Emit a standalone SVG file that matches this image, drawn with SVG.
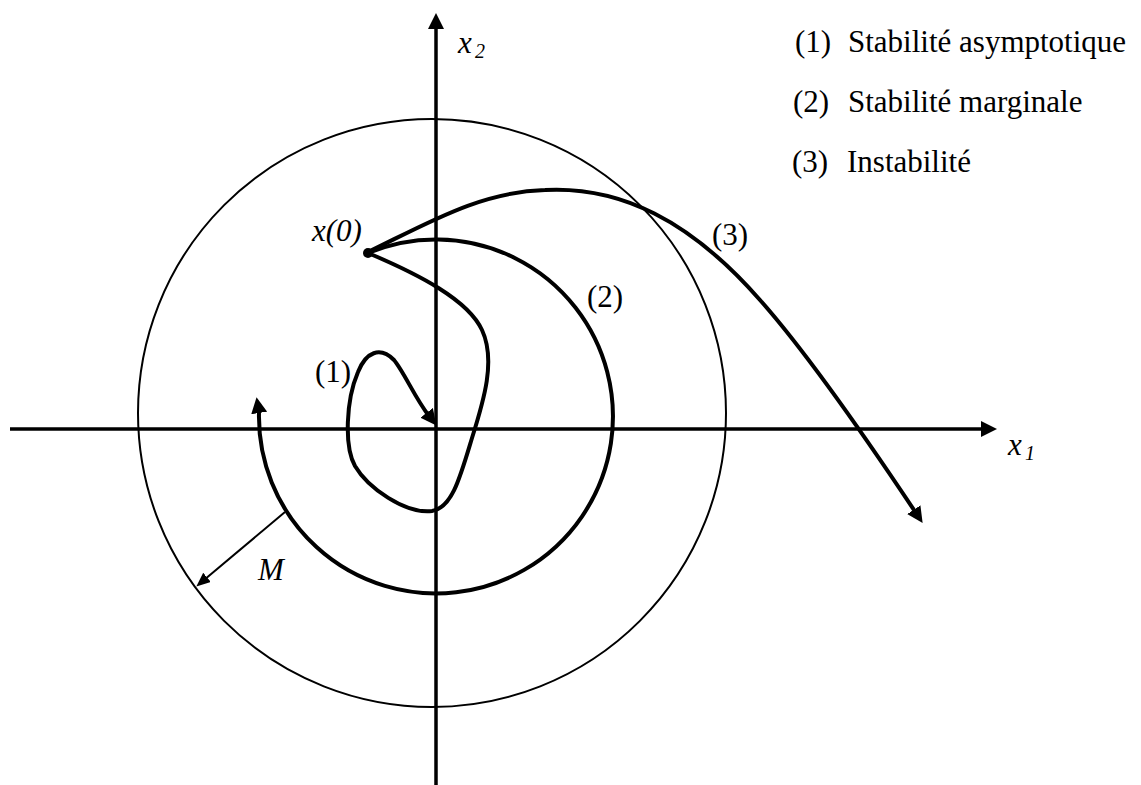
<svg xmlns="http://www.w3.org/2000/svg" width="1141" height="785" viewBox="0 0 1141 785">
<style>
.axis{fill:none;stroke:#000;stroke-width:3.5}
.traj{fill:none;stroke:#000;stroke-width:4;stroke-linejoin:round}
.thin{fill:none;stroke:#000;stroke-width:2}
.t{font-family:'Liberation Serif','DejaVu Serif',serif;font-size:31px;fill:#000}
.it{font-style:italic}
.sub{font-size:20px;font-style:italic}
</style>
<defs>
<marker id="arr" markerUnits="userSpaceOnUse" markerWidth="18" markerHeight="16" refX="4" refY="8" orient="auto"><path d="M0,0 L16,8 L0,16 z" fill="#000"/></marker>
<marker id="arrS" markerUnits="userSpaceOnUse" markerWidth="16" markerHeight="14" refX="4" refY="6" orient="auto"><path d="M0,0 L14,6 L0,12 z" fill="#000"/></marker>
</defs>
<rect width="1141" height="785" fill="#fff"/>
<g id="circle-M">
<circle cx="432" cy="413" r="294" class="thin"/>
</g>
<g id="axes">
<line x1="10" y1="429" x2="985" y2="429" class="axis" marker-end="url(#arr)"/>
<line x1="436" y1="785" x2="436" y2="25" class="axis" marker-end="url(#arr)"/>
<text x="458" y="53" class="t it">x</text><text x="475" y="58" class="t sub">2</text>
<text x="1008" y="455" class="t it">x</text><text x="1025" y="460" class="t sub">1</text>
</g>
<g id="connectors">
<path id="traj1" class="traj" marker-end="url(#arr)" d="M368,253 C420,275 468,300 482,330 C496,360 484,400 472,438 C460,478 452,508 432,511 C405,514 368,488 355,466 C344,446 346,400 358,372 C366,352 380,346 394,360 C404,372 415,398 429,416"/>
<path id="traj2" class="traj" marker-end="url(#arr)" d="M368,253 A177,177 0 1 1 259,412 L258.5,409"/>
<path id="traj3" class="traj" marker-end="url(#arr)" d="M368,252 C430,222 480,192 545,190 C620,186 690,220 760,300 C800,345 862,432 916,513"/>
<path id="radiusM" class="thin" marker-end="url(#arrS)" d="M285,512 L204,580"/>
</g>
<g id="x0">
<circle cx="368" cy="253" r="5" fill="#000"/>
<text x="312" y="241" class="t it">x(0)</text>
</g>
<g id="labels">
<text x="315" y="382" class="t">(1)</text>
<text x="587" y="307" class="t">(2)</text>
<text x="712" y="245" class="t">(3)</text>
<text x="258" y="580" class="t it">M</text>
</g>
<g id="legend">
<text y="52" class="t"><tspan x="795">(1)</tspan><tspan x="848">Stabilité asymptotique</tspan></text>
<text y="112" class="t"><tspan x="793">(2)</tspan><tspan x="848">Stabilité marginale</tspan></text>
<text y="172" class="t"><tspan x="792">(3)</tspan><tspan x="847">Instabilité</tspan></text>
</g>
</svg>
